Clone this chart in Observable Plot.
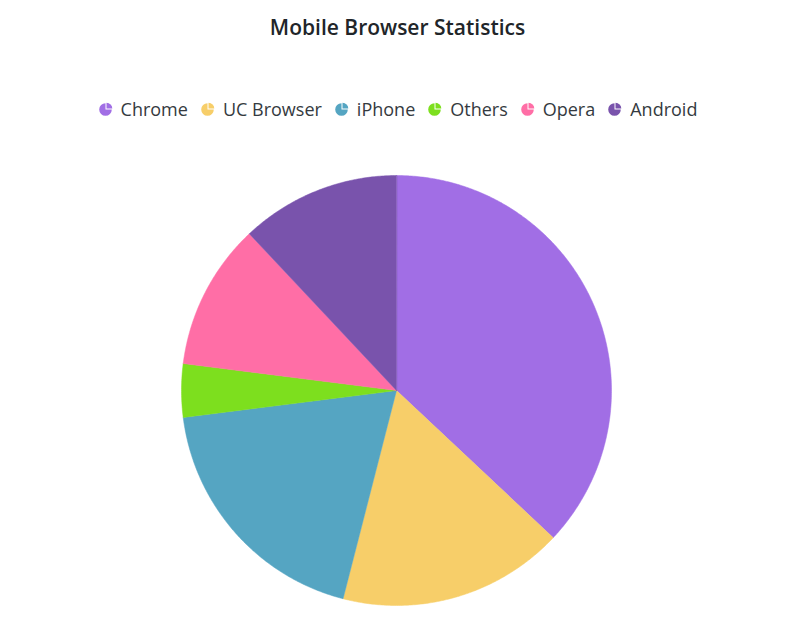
<!DOCTYPE html>
<html>
<head>
<meta charset="utf-8">
<script src="https://cdn.jsdelivr.net/npm/d3@7"></script>
<script src="https://cdn.jsdelivr.net/npm/@observablehq/plot@0.6"></script>
<style>
  html, body { margin: 0; padding: 0; background: #fff; }
  body { width: 795px; height: 635px; overflow: hidden; font-family: "Open Sans", "Noto Sans", sans-serif; }
  #title { height: 54px; line-height: 54px; text-align: center; font-size: 21px; font-weight: 600; color: #212529; }
  #legend { margin-top: 36px; height: 38px; display: flex; justify-content: center; align-items: center; font-size: 18px; color: #343a40; }
  .item { display: flex; align-items: center; margin: 0 6px; }
  .item svg { margin-right: 8px; }
  #chart svg { display: block; }
</style>
</head>
<body>
<div id="title">Mobile Browser Statistics</div>
<div id="legend"></div>
<div id="chart"></div>
<script>
const browsers = ["Chrome", "UC Browser", "iPhone", "Others", "Opera", "Android"];
const shares = [37, 17, 19, 4, 11, 12];
const colors = ["#A16EE5", "#F7CE69", "#55A5C2", "#7DDF1E", "#FF6EA6", "#7953AC"];

const data = browsers.map((name, i) => ({name, value: shares[i]}));
const arcs = d3.pie().sort(null).value(d => d.value)(data);

// build slice outlines in unit coordinates from the pie angles
const pts = [];
for (const a of arcs) {
  const name = a.data.name;
  pts.push({name, x: 0, y: 0});
  const n = Math.max(2, Math.ceil((a.endAngle - a.startAngle) / (Math.PI / 360)));
  for (let k = 0; k <= n; k++) {
    const t = a.startAngle + (a.endAngle - a.startAngle) * k / n;
    pts.push({name, x: Math.sin(t), y: Math.cos(t)});
  }
}

const plot = Plot.plot({
  width: 795,
  height: 507,
  marginLeft: 181,
  marginRight: 184,
  marginTop: 47,
  marginBottom: 30,
  x: {domain: [-1, 1], axis: null},
  y: {domain: [-1, 1], axis: null},
  color: {domain: browsers, range: colors},
  marks: [
    Plot.line(pts, {x: "x", y: "y", z: "name", fill: "name", stroke: "name", strokeWidth: 0.5, curve: "linear-closed"})
  ]
});
document.getElementById("chart").appendChild(plot);

// legend with small pie icons
const legend = document.getElementById("legend");
browsers.forEach((b, i) => {
  const item = document.createElement("div");
  item.className = "item";
  item.innerHTML = `<svg width="15" height="15" viewBox="-7.5 -7.5 15 15">
      <path d="M0,0 L0,-6.3 A6.3,6.3 0 1 0 6.3,0 Z" fill="${colors[i]}"/>
      <path d="M1,-1 L1,-6.8 A5.8,5.8 0 0 1 6.8,-1 Z" fill="${colors[i]}"/>
    </svg><span>${b}</span>`;
  legend.appendChild(item);
});
</script>
</body>
</html>
